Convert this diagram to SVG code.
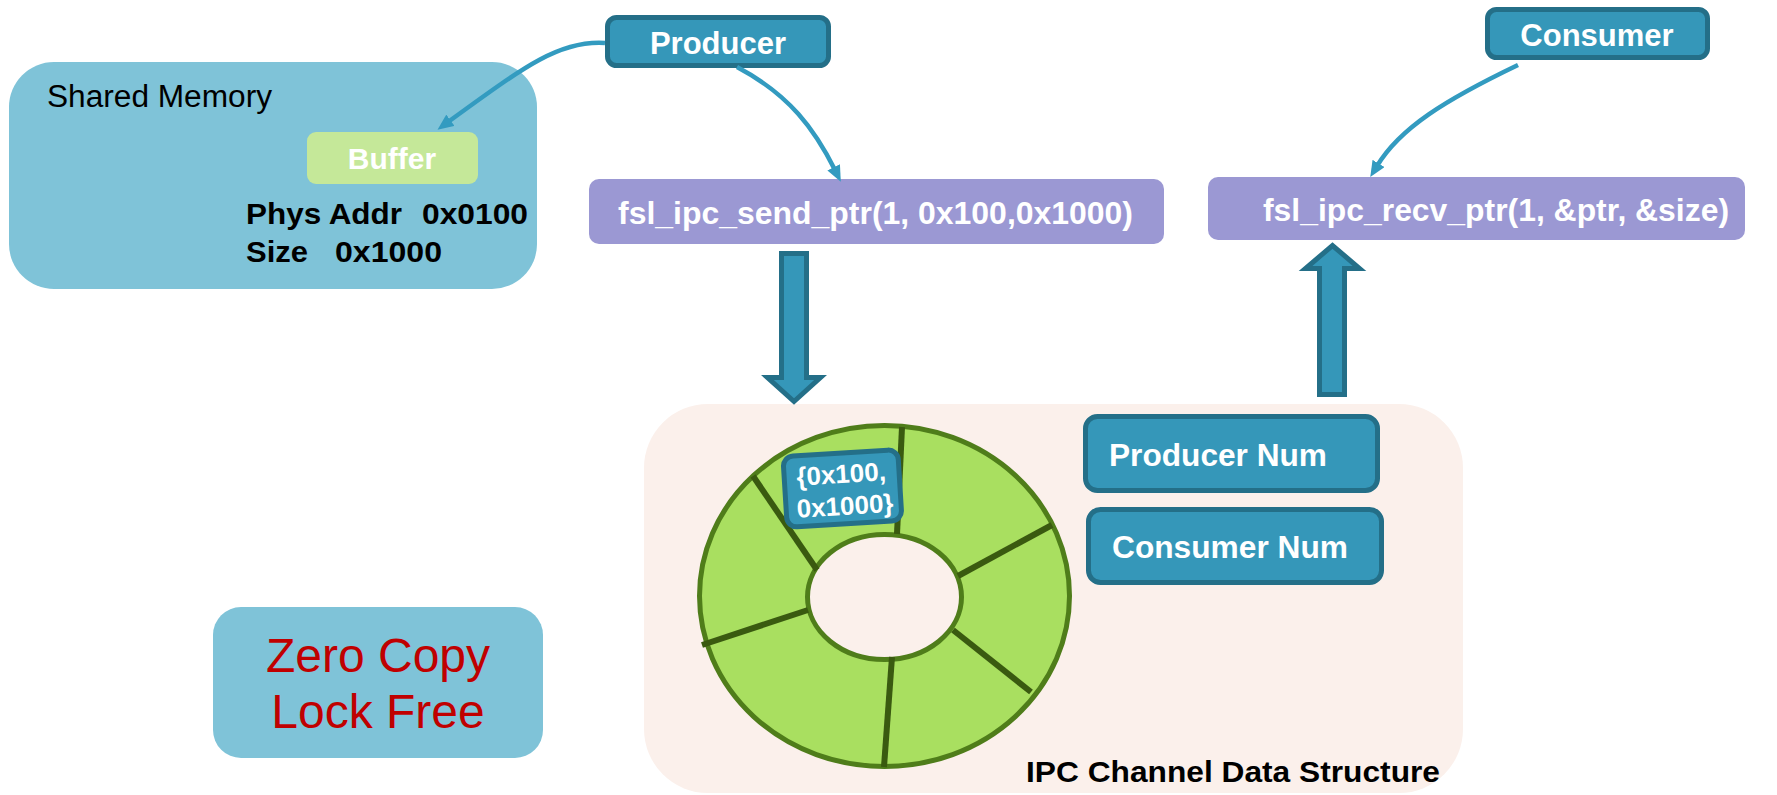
<svg xmlns="http://www.w3.org/2000/svg" width="1777" height="795" viewBox="0 0 1777 795">
  <style>
    text { font-family: "Liberation Sans", Arial, sans-serif; }
    .b { font-weight: bold; }
    .w { fill: #ffffff; }
    .k { fill: #000000; }
    .blue { fill: #3597b9; stroke: #246f88; stroke-width: 5; }
    .lav { fill: #9b98d3; }
    .lightblue { fill: #7fc3d8; }
    .conn { fill: none; stroke: #339bc0; stroke-width: 4.5; marker-end: url(#ah); }
    .block { fill: #3597b9; stroke: #246f88; stroke-width: 5; stroke-linejoin: miter; }
    .div { stroke: #3a5a10; stroke-width: 6; }
  </style>
  <defs>
    <marker id="ah" markerUnits="userSpaceOnUse" markerWidth="16" markerHeight="14" refX="3" refY="7" orient="auto">
      <path d="M0,0 L16,7 L0,14 z" fill="#339bc0"/>
    </marker>
  </defs>

  <g id="shared-memory">
    <rect x="9" y="62" width="528" height="227" rx="45" ry="45" class="lightblue"/>
    <text x="47" y="107" font-size="31" class="k" textLength="225" lengthAdjust="spacingAndGlyphs">Shared Memory</text>
    <rect x="307" y="132" width="171" height="52" rx="9" ry="9" fill="#c5e899"/>
    <text x="392" y="169" font-size="30" class="b w" text-anchor="middle">Buffer</text>
    <text x="246" y="224" font-size="30" class="b k" textLength="156" lengthAdjust="spacingAndGlyphs">Phys Addr</text>
    <text x="422" y="224" font-size="30" class="b k" textLength="106" lengthAdjust="spacingAndGlyphs">0x0100</text>
    <text x="246" y="262" font-size="30" class="b k" textLength="62" lengthAdjust="spacingAndGlyphs">Size</text>
    <text x="335" y="262" font-size="30" class="b k" textLength="107" lengthAdjust="spacingAndGlyphs">0x1000</text>
  </g>

  <g id="producer">
    <rect x="607.5" y="17.5" width="221" height="48" rx="9" ry="9" class="blue"/>
    <text x="718" y="54" font-size="31" class="b w" text-anchor="middle">Producer</text>
  </g>

  <g id="consumer">
    <rect x="1487.5" y="9.5" width="220" height="48" rx="9" ry="9" class="blue"/>
    <text x="1597" y="46" font-size="31" class="b w" text-anchor="middle">Consumer</text>
  </g>

  <g id="send">
    <rect x="589" y="179" width="575" height="65" rx="10" ry="10" class="lav"/>
    <text x="618" y="224" font-size="32" class="b w" textLength="515" lengthAdjust="spacingAndGlyphs">fsl_ipc_send_ptr(1, 0x100,0x1000)</text>
  </g>

  <g id="recv">
    <rect x="1208" y="177" width="537" height="63" rx="10" ry="10" class="lav"/>
    <text x="1263" y="221" font-size="32" class="b w" textLength="466" lengthAdjust="spacingAndGlyphs">fsl_ipc_recv_ptr(1, &amp;ptr, &amp;size)</text>
  </g>

  <g id="zero-copy">
    <rect x="213" y="607" width="330" height="151" rx="28" ry="28" class="lightblue"/>
    <text x="378" y="672" font-size="48" fill="#c00000" text-anchor="middle">Zero Copy</text>
    <text x="378" y="728" font-size="48" fill="#c00000" text-anchor="middle">Lock Free</text>
  </g>

  <g id="ipc-channel">
    <rect x="644" y="404" width="819" height="389" rx="64" ry="64" fill="#fbf0eb"/>
    <text x="1026" y="782" font-size="30" class="b k" textLength="414" lengthAdjust="spacingAndGlyphs">IPC Channel Data Structure</text>
  </g>

  <g id="ring">
    <path d="M 699.5 596 a 185 170.5 0 1 0 370 0 a 185 170.5 0 1 0 -370 0 Z M 807.5 597 a 77 62.5 0 1 0 154 0 a 77 62.5 0 1 0 -154 0 Z" fill="#a9df60" fill-rule="evenodd" stroke="#4f7d1a" stroke-width="5"/>
    <line x1="902" y1="427" x2="897" y2="534" class="div"/>
    <line x1="753" y1="476" x2="817" y2="570" class="div"/>
    <line x1="702" y1="645" x2="808" y2="610" class="div"/>
    <line x1="884" y1="767" x2="892" y2="657" class="div"/>
    <line x1="953" y1="630" x2="1031" y2="692" class="div"/>
    <line x1="958" y1="576" x2="1052" y2="525" class="div"/>
  </g>

  <g id="slot-label" transform="rotate(-3.5 842 489)">
    <rect x="785" y="453" width="115" height="71" rx="10" ry="10" class="blue"/>
    <text x="842" y="483" font-size="26" class="b w" text-anchor="middle">{0x100,</text>
    <text x="844" y="515" font-size="26" class="b w" text-anchor="middle">0x1000}</text>
  </g>

  <g id="producer-num">
    <rect x="1085.5" y="416.5" width="292" height="74" rx="12" ry="12" class="blue"/>
    <text x="1109" y="466" font-size="31" class="b w" textLength="218" lengthAdjust="spacingAndGlyphs">Producer Num</text>
  </g>

  <g id="consumer-num">
    <rect x="1088.5" y="509.5" width="293" height="73" rx="12" ry="12" class="blue"/>
    <text x="1112" y="558" font-size="31" class="b w" textLength="236" lengthAdjust="spacingAndGlyphs">Consumer Num</text>
  </g>

  <g id="connectors">
    <path class="conn" d="M 605 43 C 560 40, 525 66, 448 122"/>
    <path class="conn" d="M 737 67 C 790 95, 815 130, 835 170"/>
    <path class="conn" d="M 1518 65 C 1445 100, 1400 128, 1377 166"/>
    <polygon class="block" points="781.5,253.5 806.5,253.5 806.5,377.5 820.5,377.5 794,401.5 767.5,377.5 781.5,377.5"/>
    <polygon class="block" points="1319.5,394.5 1344.5,394.5 1344.5,268.5 1359.5,268.5 1332.5,245.5 1305.5,268.5 1319.5,268.5"/>
  </g>
</svg>
